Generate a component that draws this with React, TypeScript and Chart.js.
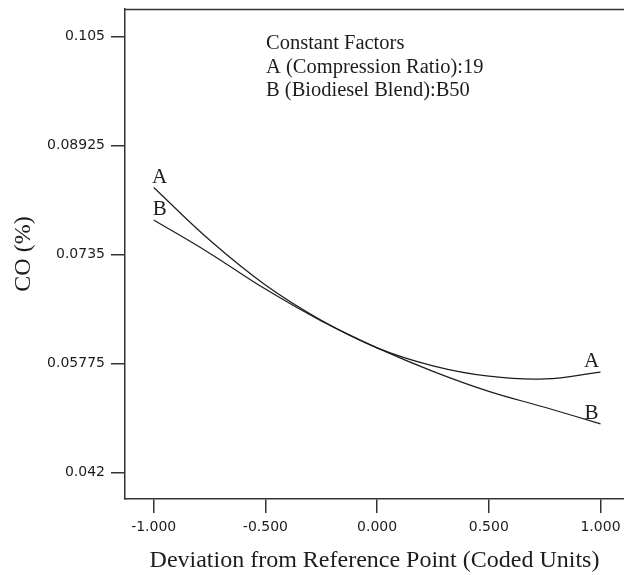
import { useEffect, useRef } from "react";
import { Chart, registerables } from "chart.js";

Chart.register(...registerables);

// Coded deviation from reference point
const xValues = [-1, -0.75, -0.5, -0.25, 0, 0.25, 0.5, 0.75, 1];
// CO (%) traces
const seriesA = [0.0832, 0.0756, 0.0691, 0.064, 0.06, 0.0574, 0.0559, 0.0555, 0.0565];
const seriesB = [0.0785, 0.0737, 0.0685, 0.0639, 0.06, 0.0566, 0.0537, 0.0514, 0.049];
const seriesNames = ["A", "B"];

const xTicks = [-1, -0.5, 0, 0.5, 1];
const yTicks = [0.042, 0.05775, 0.0735, 0.08925, 0.105];
const yTickLabels = ["0.042", "0.05775", "0.0735", "0.08925", "0.105"];

const annotationLines = [
  "Constant Factors",
  "A (Compression Ratio):19",
  "B (Biodiesel Blend):B50",
];

const xTitle = "Deviation from Reference Point (Coded Units)";
const yTitle = "CO (%)";

const SERIF = '"Liberation Serif", "Times New Roman", serif';
const SANS = '"DejaVu Sans", Verdana, sans-serif';
const INK = "#1c1c1c";
const AXIS = "#333333";

const decorPlugin = {
  id: "decor",
  afterDatasetsDraw(chart: any) {
    const { ctx, chartArea } = chart;
    ctx.save();
    // top frame line
    ctx.strokeStyle = AXIS;
    ctx.lineWidth = 1.5;
    ctx.beginPath();
    ctx.moveTo(chartArea.left, chartArea.top + 0.5);
    ctx.lineTo(chartArea.right, chartArea.top + 0.5);
    ctx.stroke();

    // series end labels
    ctx.fillStyle = INK;
    ctx.font = `21px ${SERIF}`;
    ctx.textAlign = "center";
    ctx.textBaseline = "alphabetic";
    chart.data.datasets.forEach((_: any, i: number) => {
      const meta = chart.getDatasetMeta(i);
      const pts = meta.data;
      if (!pts.length) return;
      const first = pts[0];
      const last = pts[pts.length - 1];
      const name = seriesNames[i];
      ctx.fillText(name, first.x + 6, first.y - 5);
      ctx.fillText(name, last.x - 9, last.y - 5);
    });

    // constant factors annotation
    ctx.textAlign = "left";
    ctx.font = `20.5px ${SERIF}`;
    annotationLines.forEach((line, i) => {
      ctx.fillText(line, chartArea.left + 141, chartArea.top + 40 + i * 23.5);
    });
    ctx.restore();
  },
};

export default function App() {
  const canvasRef = useRef<HTMLCanvasElement | null>(null);

  useEffect(() => {
    if (!canvasRef.current) return;
    const chart = new Chart(canvasRef.current, {
      type: "line",
      data: {
        datasets: [
          {
            label: seriesNames[0],
            data: xValues.map((x, i) => ({ x, y: seriesA[i] })),
            borderColor: INK,
            borderWidth: 1.2,
            pointRadius: 0,
            tension: 0.4,
            fill: false,
          },
          {
            label: seriesNames[1],
            data: xValues.map((x, i) => ({ x, y: seriesB[i] })),
            borderColor: INK,
            borderWidth: 1.2,
            pointRadius: 0,
            tension: 0.4,
            fill: false,
          },
        ],
      },
      options: {
        animation: false,
        responsive: false,
        maintainAspectRatio: false,
        layout: { padding: { top: 9, left: 0, right: 0, bottom: 0 } },
        plugins: {
          legend: { display: false },
          tooltip: { enabled: false },
        },
        scales: {
          x: {
            type: "linear",
            min: -1.1285,
            max: 1.1052,
            afterBuildTicks: (scale: any) => {
              scale.ticks = xTicks.map((v) => ({ value: v }));
            },
            afterFit: (scale: any) => {
              scale.height = 76;
              scale.paddingLeft = 0;
              scale.paddingRight = 0;
            },
            grid: {
              drawOnChartArea: false,
              drawTicks: true,
              tickLength: 14,
              color: AXIS,
              lineWidth: 1.5,
            },
            border: { display: true, color: AXIS, width: 1.5 },
            ticks: {
              padding: 6,
              color: INK,
              font: { family: SANS, size: 14 },
              maxRotation: 0,
              autoSkip: false,
              callback: (v: any) => Number(v).toFixed(3),
            },
            title: {
              display: true,
              text: xTitle,
              color: INK,
              font: { family: SERIF, size: 24 },
              padding: { top: 0, bottom: 0 },
            },
          },
          y: {
            type: "linear",
            min: 0.03813,
            max: 0.10903,
            afterBuildTicks: (scale: any) => {
              scale.ticks = yTicks.map((v) => ({ value: v }));
            },
            afterFit: (scale: any) => {
              scale.width = 125;
              scale.paddingTop = 0;
              scale.paddingBottom = 0;
            },
            grid: {
              drawOnChartArea: false,
              drawTicks: true,
              tickLength: 14,
              color: AXIS,
              lineWidth: 1.5,
            },
            border: { display: true, color: AXIS, width: 1.5 },
            ticks: {
              padding: 6,
              color: INK,
              font: { family: SANS, size: 14 },
              autoSkip: false,
              callback: (v: any) => {
                const idx = yTicks.indexOf(Number(v));
                return idx >= 0 ? yTickLabels[idx] : "";
              },
            },
            title: {
              display: true,
              text: yTitle,
              color: INK,
              font: { family: SERIF, size: 24 },
              padding: { top: 9, bottom: 0 },
            },
          },
        },
      },
      plugins: [decorPlugin],
    });
    return () => chart.destroy();
  }, []);

  return (
    <div style={{ position: "absolute", left: 0, top: 0, width: 624, height: 575, background: "#fff" }}>
      <canvas ref={canvasRef} width={624} height={575} style={{ display: "block", width: 624, height: 575 }} />
    </div>
  );
}
